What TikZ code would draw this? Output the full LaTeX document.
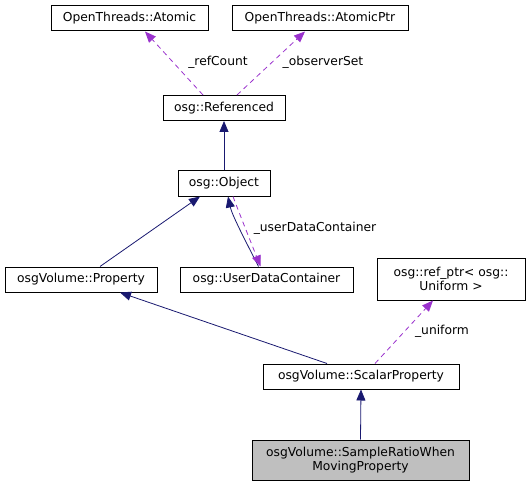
\documentclass[tikz,border=0pt]{standalone}
\usepackage{fontspec}
\setmainfont{DejaVu Sans}
\usetikzlibrary{arrows.meta}
\definecolor{navy}{HTML}{191970}
\definecolor{orchid}{HTML}{9A32CD}
\definecolor{boxgray}{HTML}{BFBFBF}
\tikzset{
  cls/.style={draw=black, line width=1pt, fill=white, inner sep=0pt, align=center, font=\fontsize{12.3}{13.5}\selectfont},
  inh/.style={draw=navy, line width=0.8pt, -{Triangle[length=11pt,width=9pt]}},
  use/.style={draw=orchid, line width=0.8pt, dash pattern=on 5pt off 4pt, -{Triangle[length=11pt,width=9pt]}},
  lbl/.style={font=\fontsize{12.3}{13.5}\selectfont, inner sep=0pt}
}
\begin{document}
\begin{tikzpicture}[x=1pt,y=-1pt]
\useasboundingbox (0,0) rectangle (531,487);
\node[cls, minimum width=157pt, minimum height=25pt] (atomic) at (129.5,18.5) {OpenThreads::Atomic};
\node[cls, minimum width=176pt, minimum height=25pt] (atomicptr) at (320,18.5) {OpenThreads::AtomicPtr};
\node[cls, minimum width=122pt, minimum height=25pt] (ref) at (224,108) {osg::Referenced};
\node[cls, minimum width=92pt, minimum height=25pt] (obj) at (224,183.5) {osg::Object};
\node[cls, minimum width=152pt, minimum height=25pt] (prop) at (81,279.5) {osgVolume::Property};
\node[cls, minimum width=173pt, minimum height=25pt] (udc) at (266.5,279.5) {osg::UserDataContainer};
\node[cls, minimum width=148pt, minimum height=42pt] (refptr) at (451,279) {osg::ref\_ptr< osg::\\Uniform >};
\node[cls, minimum width=196pt, minimum height=25pt] (scalar) at (361,376.5) {osgVolume::ScalarProperty};
\node[cls, fill=boxgray, minimum width=217pt, minimum height=40pt] (sample) at (360.5,460) {osgVolume::SampleRatioWhen\\MovingProperty};

\draw[use] ([xshift=-21pt]ref.north) -- ([xshift=15.5pt]atomic.south);
\draw[use] ([xshift=13pt]ref.north) -- ([xshift=-15pt]atomicptr.south);
\node[lbl] (lrc) at (218,62) {\_refCount};
\node[lbl] (los) at (323,62) {\_observerSet};

\draw[inh] (obj.north) -- (ref.south);
\draw[inh] ([xshift=19pt]prop.north) -- ([xshift=-24pt]obj.south);
\draw[inh] ([xshift=-8pt]udc.north) .. controls (245,240) and (232,215) .. ([xshift=4pt]obj.south);
\draw[use] ([xshift=9pt]obj.south) .. controls (240,215) and (250,240) .. ([xshift=-6pt]udc.north);
\node[lbl] (ludc) at (315,228) {\_userDataContainer};

\draw[inh] ([xshift=-34pt]scalar.north) -- ([xshift=39pt]prop.south);
\draw[use] ([xshift=14pt]scalar.north) -- ([xshift=-18pt]refptr.south);
\node[lbl] (lu) at (442,331) {\_uniform};

\draw[inh] (sample.north) -- (scalar.south);
\end{tikzpicture}
\end{document}
